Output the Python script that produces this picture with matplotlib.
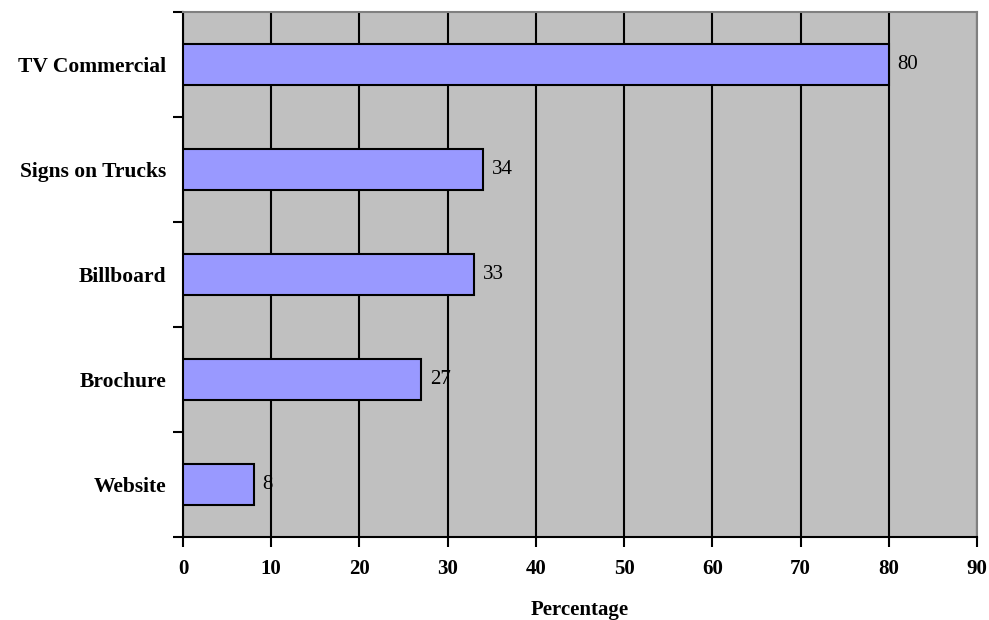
import matplotlib
matplotlib.use("Agg")
import matplotlib.pyplot as plt
import numpy as np

categories = ["Website", "Brochure", "Billboard", "Signs on Trucks", "TV Commercial"]
values = [8, 27, 33, 34, 80]
x_ticks = [0, 10, 20, 30, 40, 50, 60, 70, 80, 90]

FS = 15
SERIF = "Liberation Serif"

fig = plt.figure(figsize=(9.89, 6.2), dpi=100)
ax = fig.add_axes([183 / 989, 1 - 537 / 620, (977 - 183) / 989, (537 - 12) / 620])

ax.set_facecolor("#C0C0C0")
ypos = np.arange(len(categories))
ax.barh(ypos, values, height=0.39, color="#9999FF", edgecolor="black", linewidth=1.5, zorder=3)

for y, v in zip(ypos, values):
    ax.text(v + 1.0, y, str(v), va="center", ha="left", fontsize=FS,
            family=SERIF, zorder=4)

ax.set_xlim(0, 90)
ax.set_ylim(-0.5, len(categories) - 0.5)
ax.set_xticks(x_ticks)
ax.set_xticklabels([str(t) for t in x_ticks], fontsize=FS, family=SERIF, fontweight="bold")
ax.xaxis.grid(True, color="black", linewidth=1.5, zorder=1)
ax.set_axisbelow(True)

# category labels at bar centres, tick marks at category boundaries
ax.set_yticks(ypos)
ax.set_yticklabels(categories, fontsize=FS + 0.5, family=SERIF, fontweight="bold")
ax.tick_params(axis="y", length=0, pad=12)
ax.set_yticks(np.arange(-0.5, len(categories), 1.0), minor=True)
ax.tick_params(axis="y", which="minor", length=7, width=1.5, direction="out")
ax.tick_params(axis="x", length=7, width=1.5, direction="out", pad=9)

ax.set_xlabel("Percentage", fontsize=FS, family=SERIF, fontweight="bold", labelpad=15)

for side in ["left", "bottom"]:
    ax.spines[side].set_color("black")
    ax.spines[side].set_linewidth(1.5)
for side in ["top", "right"]:
    ax.spines[side].set_color("#808080")
    ax.spines[side].set_linewidth(1.5)

fig.savefig("out.png", dpi=100)
